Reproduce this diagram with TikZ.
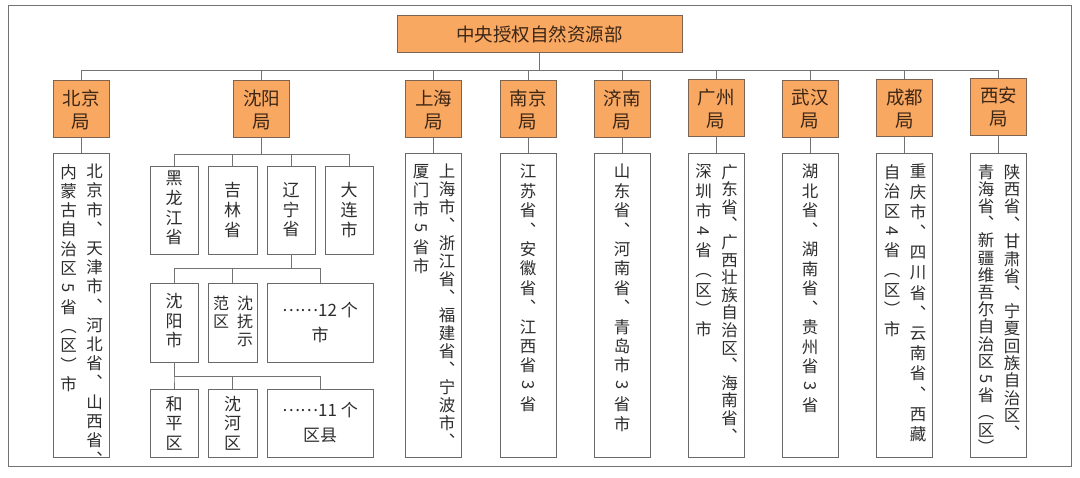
\documentclass[tikz,border=0pt]{standalone}
\usepackage{fontspec}
\setmainfont{Noto Sans CJK SC}
\usepackage{graphicx}
\makeatletter
\newcommand\vcol[2]{\vbox{\baselineskip=#1pt\lineskiplimit=-\maxdimen\lineskip=0pt\@tfor\vc@x:=#2\do{\hbox to 1em{\hss\vc@x\hss}}}}
\makeatother
\newcommand\rt[1]{\rotatebox[origin=c]{-90}{#1}}
\newcommand\mdots{\raisebox{0.3em}{……}}
\definecolor{orfill}{RGB}{249,168,98}
\definecolor{orline}{RGB}{125,100,82}
\definecolor{lnc}{RGB}{115,115,115}
\definecolor{boxc}{RGB}{105,105,105}
\definecolor{txt}{RGB}{45,45,45}
\definecolor{ortxt}{RGB}{60,38,22}
\tikzset{
  orbox/.style={draw=orline, fill=orfill, line width=1pt, text=ortxt, inner sep=0pt},
  bureau/.style={orbox, minimum width=56pt, minimum height=57pt, align=center,
     font=\fontsize{18.5}{23}\selectfont},
  tbox/.style={draw=boxc, line width=0.9pt, inner sep=0pt, minimum width=56pt, minimum height=304pt},
  sbox/.style={draw=boxc, line width=0.9pt, inner sep=0pt, text=txt, align=center},
  vtext/.style={inner sep=0pt, text=txt, font=\fontsize{16.5}{19}\selectfont},
  stext/.style={inner sep=0pt, text=txt, font=\fontsize{17}{20}\selectfont},
  conn/.style={draw=lnc, line width=0.9pt}
}
\begin{document}
\begin{tikzpicture}[x=1pt,y=-1pt]
\useasboundingbox (0,0) rectangle (1080,478);
\draw[draw=lnc, line width=1pt] (8,6) rectangle (1071,467);
% top
\node[orbox, minimum width=285pt, minimum height=37pt, font=\fontsize{18.5}{20}\selectfont] (top) at (539.5,34.5) {中央授权自然资源部};
% bureaus
\node[bureau] (bj) at (81,109.5) {北京\\局};
\node[bureau] (sy) at (261.5,109.5) {沈阳\\局};
\node[bureau] (sh) at (433.5,109.5) {上海\\局};
\node[bureau] (nj) at (528,109.5) {南京\\局};
\node[bureau] (jn) at (622,109.5) {济南\\局};
\node[bureau] (gz) at (716,108.5) {广州\\局};
\node[bureau] (wh) at (810,109.5) {武汉\\局};
\node[bureau] (cd) at (904.5,108.5) {成都\\局};
\node[bureau] (xa) at (998.5,107) {西安\\局};
\foreach \b in {bj,sy,sh,nj,jn,gz,wh,cd,xa}
  \draw[conn] (top.south) -- ++(0,17) -| (\b.north);
% text boxes
\node[tbox] (bjt) at (81,305) {};
\node[tbox] (sht) at (433.5,305) {};
\node[tbox] (njt) at (528,305) {};
\node[tbox] (jnt) at (622,305) {};
\node[tbox] (gzt) at (716,305) {};
\node[tbox] (wht) at (810,305) {};
\node[tbox] (cdt) at (904.5,305) {};
\node[tbox] (xat) at (998.5,305) {};
\foreach \b in {bj,sh,nj,jn,gz,wh,cd,xa}
  \draw[conn] (\b.south) -- (\b t.north);
% vertical texts
\node[vtext, anchor=north] (bjR) at (94.5,164) {\vcol{19.2}{北京市︑天津市︑河北省︑山西省︑}};
\node[vtext, anchor=north] (bjL) at (68.5,164) {\vcol{19.3}{内蒙古自治区{\rt{5}}省︵区︶市}};
\node[vtext, anchor=north] (shR) at (447,164) {\vcol{18}{上海市︑浙江省︑福建省︑宁波市︑}};
\node[vtext, anchor=north] (shL) at (421,164) {\vcol{19}{厦门市{\rt{5}}省市}};
\node[vtext, anchor=north] (njC) at (528,164) {\vcol{19.4}{江苏省︑安徽省︑江西省{\rt{3}}省}};
\node[vtext, anchor=north] (jnC) at (622,164) {\vcol{19.4}{山东省︑河南省︑青岛市{\rt{3}}省市}};
\node[vtext, anchor=north] (gzR) at (729.5,164) {\vcol{17.6}{广东省︑广西壮族自治区︑海南省︑}};
\node[vtext, anchor=north] (gzL) at (703.5,164) {\vcol{19.7}{深圳市{\rt{4}}省︵区︶市}};
\node[vtext, anchor=north] (whC) at (810,164) {\vcol{19.5}{湖北省︑湖南省︑贵州省{\rt{3}}省}};
\node[vtext, anchor=north] (cdR) at (918,164) {\vcol{20.2}{重庆市︑四川省︑云南省︑西藏}};
\node[vtext, anchor=north] (cdL) at (892,164) {\vcol{19.7}{自治区{\rt{4}}省︵区︶市}};
\node[vtext, anchor=north] (xaR) at (1012,164) {\vcol{17.4}{陕西省︑甘肃省︑宁夏回族自治区︑}};
\node[vtext, anchor=north] (xaL) at (986,164) {\vcol{17.2}{青海省︑新疆维吾尔自治区{\rt{5}}省︵区︶}};
% Shenyang subtree
\node[sbox, minimum width=48pt, minimum height=88pt] (hlj) at (174,210) {};
\node[sbox, minimum width=49pt, minimum height=88pt] (jl) at (232.5,210) {};
\node[sbox, minimum width=48pt, minimum height=88pt] (ln) at (291,210) {};
\node[sbox, minimum width=48pt, minimum height=88pt] (dl) at (349,210) {};
\foreach \b in {hlj,jl,ln,dl}
  \draw[conn] (sy.south) -- ++(0,16) -| (\b.north);
\node[stext] (hljT) at (174,208) {\vcol{19.7}{黑龙江省}};
\node[stext] (jlT) at (232.5,210) {\vcol{19.7}{吉林省}};
\node[stext] (lnT) at (291,210) {\vcol{19.7}{辽宁省}};
\node[stext] (dlT) at (349,210) {\vcol{19.7}{大连市}};
\node[sbox, minimum width=48pt, minimum height=79pt] (syc) at (174,322.5) {};
\node[sbox, minimum width=49pt, minimum height=79pt] (sf) at (232.5,322.5) {};
\node[sbox, minimum width=106pt, minimum height=79pt, font=\fontsize{17}{25}\selectfont] (m12) at (320,322.5) {\mdots12 个\\市};
\foreach \b in {syc,sf,m12}
  \draw[conn] (ln.south) -- ++(0,14) -| (\b.north);
\node[stext] (sycT) at (174,321) {\vcol{19.5}{沈阳市}};
\node[stext, anchor=north, font=\fontsize{16}{18}\selectfont] (sfR) at (245,296) {\vcol{18}{沈抚示}};
\node[stext, anchor=north, font=\fontsize{16}{18}\selectfont] (sfL) at (221,296) {\vcol{18}{范区}};
\node[sbox, minimum width=48pt, minimum height=68pt] (hp) at (174,423) {};
\node[sbox, minimum width=49pt, minimum height=68pt] (shq) at (232.5,423) {};
\node[sbox, minimum width=106pt, minimum height=68pt, font=\fontsize{17}{25}\selectfont] (m11) at (320,423) {\mdots11 个\\区县};
\foreach \b in {hp,shq,m11}
  \draw[conn] (syc.south) -- ++(0,14) -| (\b.north);
\node[stext] (hpT) at (174,423) {\vcol{19.5}{和平区}};
\node[stext] (shqT) at (232.5,423) {\vcol{19.5}{沈河区}};
\end{tikzpicture}
\end{document}
